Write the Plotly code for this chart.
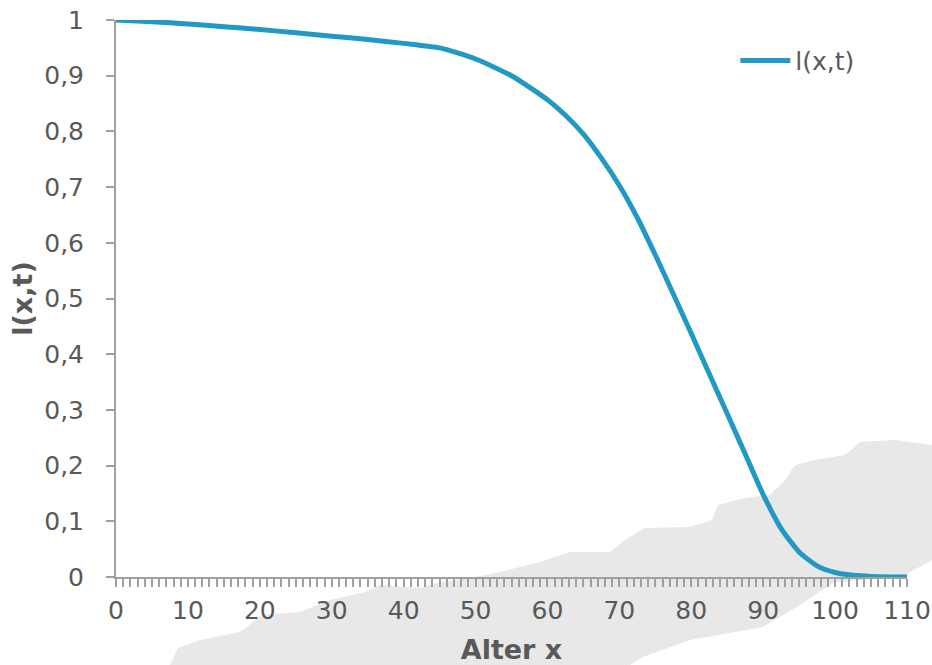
import plotly.graph_objects as go

# Data
ages = [0, 5, 10, 15, 20, 25, 30, 35, 40, 45, 50, 55, 60, 62.5, 65, 67.5, 70, 72.5, 75, 77.5,
        80, 82.5, 85, 87.5, 90, 92.5, 95, 97.5, 100, 102.5, 105, 110]
lxt = [1.000, 0.997, 0.993, 0.988, 0.983, 0.977, 0.971, 0.965, 0.958, 0.950, 0.930, 0.900,
       0.857, 0.829, 0.795, 0.752, 0.703, 0.645, 0.578, 0.508, 0.437, 0.365, 0.293, 0.221,
       0.148, 0.087, 0.045, 0.020, 0.008, 0.003, 0.001, 0.000]
series_name = "l(x,t)"
x_title = "Alter x"
y_title = "l(x,t)"
y_tickvals = [0, 0.1, 0.2, 0.3, 0.4, 0.5, 0.6, 0.7, 0.8, 0.9, 1.0]
y_ticktext = ["0", "0,1", "0,2", "0,3", "0,4", "0,5", "0,6", "0,7", "0,8", "0,9", "1"]
x_tickvals = list(range(0, 111, 10))

W, H = 932, 665
L, R, T, B = 116, 25, 20, 88
pw, ph = W - L - R, H - T - B

def px2paper(px, py):
    return (px - L) / pw, (H - B - py) / ph

# decorative light-grey background watermark (approximate outline in pixels)
wm = [(170,665),(178,648),(200,640),(240,632),(262,615),(300,612),(330,600),(365,592),(380,585),
      (420,588),(440,582),(470,578),(500,572),(540,562),(570,552),(610,552),(625,540),(645,528),
      (690,527),(712,520),(718,505),(745,498),(770,495),(785,480),(795,465),(815,460),(845,455),
      (860,442),(895,440),(932,445),(932,560),(905,575),(860,580),(833,583),(800,605),(763,627),
      (690,640),(643,657),(630,665)]
pts = [px2paper(a, b) for a, b in wm]
path = "M " + " L ".join(f"{a:.4f},{b:.4f}" for a, b in pts) + " Z"

fig = go.Figure()
fig.add_trace(go.Scatter(
    x=ages, y=lxt, mode="lines", name=series_name,
    line=dict(color="#2199C2", width=5, shape="spline", smoothing=0.6),
))

font_family = "DejaVu Sans, Verdana, sans-serif"
fig.update_layout(
    width=W, height=H,
    margin=dict(l=L, r=R, t=T, b=B, autoexpand=False),
    paper_bgcolor="white", plot_bgcolor="rgba(0,0,0,0)",
    font=dict(family=font_family, size=25, color="#595959"),
    showlegend=True,
    legend=dict(x=0.783, y=0.968, xanchor="left", yanchor="top",
                bgcolor="rgba(0,0,0,0)", font=dict(size=25, color="#595959"),
                itemwidth=50),
    shapes=[dict(type="path", path=path, xref="paper", yref="paper",
                 fillcolor="#E8E8E8", line=dict(width=0), layer="below")],
)
fig.update_xaxes(
    range=[0, 110], tickvals=x_tickvals, showgrid=False, zeroline=False, automargin=False,
    showline=True, linecolor="#A0A0A0", linewidth=2,
    ticks="outside", ticklen=8, tickwidth=2, tickcolor="#A0A0A0",
    minor=dict(dtick=1, ticks="outside", ticklen=8, tickwidth=2, tickcolor="#A0A0A0"),
    tickfont=dict(size=25, color="#595959"), ticklabelstandoff=2,
    title=dict(text="<b>" + x_title + "</b>", font=dict(size=27, color="#595959"), standoff=16),
)
fig.update_yaxes(
    range=[0, 1], tickvals=y_tickvals, ticktext=y_ticktext, showgrid=False, zeroline=False,
    automargin=False,
    showline=True, linecolor="#A0A0A0", linewidth=2,
    ticks="outside", ticklen=8, tickwidth=2, tickcolor="#A0A0A0",
    tickfont=dict(size=25, color="#595959"), ticklabelstandoff=17,
    title=dict(text="<b>" + y_title + "</b>", font=dict(size=27, color="#595959"), standoff=4),
)
fig.write_html("out.html")
